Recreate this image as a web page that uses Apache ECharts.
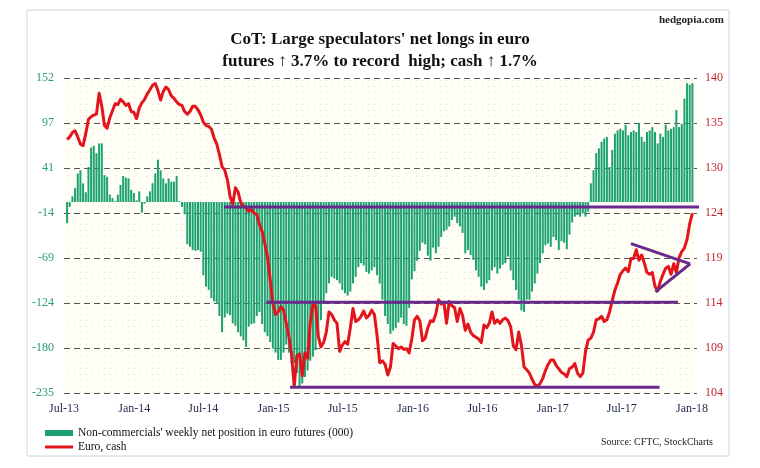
<!DOCTYPE html>
<html>
<head>
<meta charset="utf-8">
<script src="https://cdn.jsdelivr.net/npm/echarts@6/dist/echarts.min.js"></script>
<style>
  html, body { margin: 0; padding: 0; background: #ffffff; }
  #chart { width: 760px; height: 468px; }
</style>
</head>
<body>
<div id="chart"></div>
<script>
// ---- Data (weekly, first week 2013-07-09) ----
const firstWeek = '2013-07-09';
const netLongs = [
  -26,-6,7,17,35,39,23,12,43,67,
  69,60,72,72,33,31,9,5,1,9,
  21,32,30,29,15,11,2,13,-13,-2,
  7,13,23,35,52,39,29,23,29,25,
  25,32,1,-6,-15,-52,-55,-59,-60,-59,
  -61,-90,-104,-108,-118,-122,-125,-140,-160,-142,
  -137,-139,-149,-152,-160,-165,-170,-178,-153,-150,
  -149,-140,-135,-150,-160,-165,-172,-180,-185,-194,
  -194,-185,-175,-185,-198,-198,-210,-226,-223,-215,
  -207,-195,-190,-182,-165,-145,-125,-112,-100,-92,
  -94,-96,-100,-108,-112,-115,-110,-100,-92,-80,
  -75,-78,-86,-88,-84,-80,-90,-100,-120,-140,
  -150,-162,-158,-155,-148,-142,-150,-152,-130,-95,
  -85,-72,-60,-50,-52,-66,-72,-56,-63,-55,
  -43,-36,-34,-30,-22,-18,-26,-30,-38,-63,
  -59,-65,-71,-84,-92,-104,-108,-100,-96,-84,
  -80,-88,-82,-77,-75,-67,-84,-96,-108,-120,
  -133,-135,-120,-120,-110,-100,-88,-75,-63,-53,
  -51,-55,-43,-47,-59,-48,-50,-58,-40,-25,
  -18,-16,-18,-14,-18,-12,23,39,60,66,
  74,78,80,43,64,84,88,90,88,95,
  82,86,88,86,97,80,74,86,88,92,
  86,72,84,80,95,88,90,92,113,92,
  96,127,146,144,146
];
const euroCash = [
  133.0,133.3,133.8,134.0,133.3,132.5,132.3,133.7,135.3,135.6,
  135.8,135.9,138.3,136.8,134.6,134.3,135.5,136.3,137.1,137.0,
  137.6,137.3,136.9,137.1,136.2,136.1,135.4,136.6,137.2,137.6,
  138.2,138.7,139.2,139.4,138.6,137.5,138.5,139.0,138.7,138.0,
  137.7,137.3,137.0,136.9,136.2,135.9,136.2,136.8,136.8,136.4,
  135.8,135.0,134.6,134.5,134.2,133.2,132.5,131.3,129.9,129.5,
  128.4,126.5,125.6,127.5,127.0,125.8,125.4,125.2,124.8,125.0,
  124.6,124.4,123.3,122.5,121.1,119.6,117.0,114.3,113.0,113.3,
  113.9,113.5,112.0,110.5,108.5,104.8,108.3,108.5,106.0,108.6,
  108.0,112.0,114.2,114.0,110.5,109.3,109.8,111.0,113.3,113.0,
  112.4,112.0,108.8,109.5,109.9,109.6,111.5,113.7,112.2,112.4,
  112.8,113.4,112.6,112.9,113.5,113.0,110.6,107.5,107.7,107.3,
  106.1,107.0,109.7,109.4,109.1,109.3,109.0,109.1,108.6,110.2,
  112.4,112.8,112.3,110.0,110.3,111.5,112.3,112.2,113.1,114.7,
  114.2,114.4,112.0,114.5,114.0,113.8,112.2,113.7,112.9,111.2,
  111.9,111.0,110.6,110.4,110.2,109.8,111.8,111.5,112.0,113.3,
  112.0,112.4,112.0,112.4,112.6,112.3,111.6,109.4,109.0,111.0,
  109.5,107.0,106.7,106.3,105.6,105.0,104.8,105.1,105.7,106.6,
  107.3,107.8,107.8,107.2,106.8,106.4,106.2,105.9,106.8,107.0,
  107.4,106.3,105.9,106.3,108.8,110.1,110.3,111.0,112.4,112.5,
  112.8,112.2,112.4,113.3,114.6,115.8,116.6,117.6,118.0,118.3,
  117.9,119.4,119.4,120.4,119.2,119.8,118.9,117.8,117.6,117.8,
  116.2,115.7,116.8,117.6,118.3,118.5,117.6,118.8,117.8,119.5,
  120.2,120.6,121.6,123.4,124.6
];
// Trend-line annotations (euro axis)
const resistanceLine = [['2014-08-24', 125.3], ['2018-01-21', 125.3]];
const supportMidLine = [['2014-12-13', 114.4], ['2017-11-25', 114.4]];
const supportLowLine = [['2015-02-13', 104.7], ['2017-10-08', 104.7]];
const triangleUpper = [['2017-07-25', 121.1], ['2017-12-27', 118.8]];
const triangleLower = [['2017-09-27', 115.6], ['2017-12-27', 118.8]];
// Axis ticks
const xTickDates = ['2013-07-01','2014-01-01','2014-07-01','2015-01-01','2015-07-01','2016-01-01','2016-07-01','2017-01-01','2017-07-01','2018-01-01'];
const xTickLabels = ['Jul-13','Jan-14','Jul-14','Jan-15','Jul-15','Jan-16','Jul-16','Jan-17','Jul-17','Jan-18'];
const leftTickLabels = ['-235','-180','-124','-69','-14','41','97','152'];
const rightTickLabels = ['104','109','114','119','124','130','135','140'];
const leftMin = -235, leftMax = 152, rightMin = 104, rightMax = 140;

// ---- Build ----
const DAY = 86400000;
const toTs = s => Date.parse(s + 'T00:00:00Z');
const t0 = toTs(firstWeek);
const weekDates = netLongs.map((_, i) => t0 + i * 7 * DAY);
const barData = netLongs.map((v, i) => [weekDates[i], v]);
const lineData = euroCash.map((v, i) => [weekDates[i], v]);
const xTickTs = xTickDates.map(toTs);

const leftInterval = (leftMax - leftMin) / 7;
const rightInterval = (rightMax - rightMin) / 7;

// dotted background pattern
const pc = document.createElement('canvas');
pc.width = 6; pc.height = 6;
const pctx = pc.getContext('2d');
pctx.fillStyle = '#fffef7';
pctx.fillRect(0, 0, 6, 6);
pctx.fillStyle = '#ece5b4';
pctx.fillRect(2, 2, 1, 1);

const SERIF = '"Liberation Serif", "DejaVu Serif", serif';
const purple = '#6a2a8c';

function annot(name, data) {
  return {
    name: name, type: 'line', yAxisIndex: 1, data: data.map(p => [toTs(p[0]), p[1]]),
    symbol: 'none', silent: true, z: 5,
    lineStyle: { color: purple, width: 3 }
  };
}

const chart = echarts.init(document.getElementById('chart'), null, { renderer: 'canvas' });
chart.setOption({
  animation: false,
  backgroundColor: '#ffffff',
  title: [
    {
      text: "CoT: Large speculators' net longs in euro\nfutures \u2191 3.7% to record  high; cash \u2191 1.7%",
      left: 'center', top: 24,
      textStyle: { fontFamily: SERIF, fontWeight: 'bold', fontSize: 17, lineHeight: 22, color: '#111' }
    },
    {
      text: 'hedgopia.com', right: 31, top: 10,
      textStyle: { fontFamily: SERIF, fontWeight: 'bold', fontSize: 11, color: '#222' }
    }
  ],
  legend: [
    {
      data: [{ name: "Non-commercials' weekly net position in euro futures (000)", icon: 'rect' }],
      left: 40, top: 422, itemWidth: 28, itemHeight: 6, itemGap: 2, selectedMode: false,
      textStyle: { fontFamily: SERIF, fontSize: 11.5, color: '#111' }
    },
    {
      data: [{ name: 'Euro, cash', icon: 'rect' }],
      left: 40, top: 436, itemWidth: 28, itemHeight: 3, selectedMode: false,
      textStyle: { fontFamily: SERIF, fontSize: 11.5, color: '#111' }
    }
  ],
  graphic: [
    { type: 'rect', shape: { x: 27, y: 10, width: 702, height: 446 }, style: { fill: 'none', stroke: '#cdd6e2', lineWidth: 1 }, silent: true, z: -1 },
    { type: 'text', x: 713, y: 442, style: { text: 'Source: CFTC, StockCharts', align: 'right', verticalAlign: 'middle', fontFamily: SERIF, fontSize: 10, fill: '#222' } }
  ],
  grid: {
    left: 64, right: 63, top: 78.3, bottom: 74.7,
    show: true, borderWidth: 0,
    backgroundColor: { image: pc, repeat: 'repeat' }
  },
  xAxis: {
    type: 'value',
    min: toTs('2013-07-01'), max: toTs('2018-01-14'),
    axisLine: { show: false }, axisTick: { show: false },
    splitLine: { show: false },
    axisLabel: {
      customValues: xTickTs,
      formatter: v => { const k = xTickTs.indexOf(v); return k >= 0 ? xTickLabels[k] : ''; },
      fontFamily: SERIF, fontSize: 12, color: '#1f2a4d', margin: 10, hideOverlap: false
    }
  },
  yAxis: [
    {
      type: 'value', min: leftMin, max: leftMax, interval: leftInterval,
      axisLine: { show: false }, axisTick: { show: false },
      splitLine: { show: true, lineStyle: { color: '#555', width: 1, type: [6, 4] } },
      axisLabel: {
        formatter: v => leftTickLabels[Math.round((v - leftMin) / leftInterval)] || '',
        fontFamily: SERIF, fontSize: 12, color: '#2a9c78', margin: 10
      }
    },
    {
      type: 'value', min: rightMin, max: rightMax, interval: rightInterval,
      axisLine: { show: false }, axisTick: { show: false },
      splitLine: { show: false },
      axisLabel: {
        formatter: v => rightTickLabels[Math.round((v - rightMin) / rightInterval)] || '',
        fontFamily: SERIF, fontSize: 12, color: '#c4262e', margin: 8
      }
    }
  ],
  series: [
    {
      name: "Non-commercials' weekly net position in euro futures (000)",
      type: 'bar', yAxisIndex: 0, data: barData, barWidth: 2,
      itemStyle: { color: '#1ba270' }, z: 2
    },
    {
      name: 'Euro, cash', type: 'line', yAxisIndex: 1, data: lineData,
      symbol: 'none', z: 4,
      lineStyle: { color: '#e3141c', width: 3, join: 'round' },
      itemStyle: { color: '#e3141c' }
    },
    annot('res', resistanceLine),
    annot('mid', supportMidLine),
    annot('low', supportLowLine),
    annot('triU', triangleUpper),
    annot('triL', triangleLower)
  ]
});
</script>
</body>
</html>
